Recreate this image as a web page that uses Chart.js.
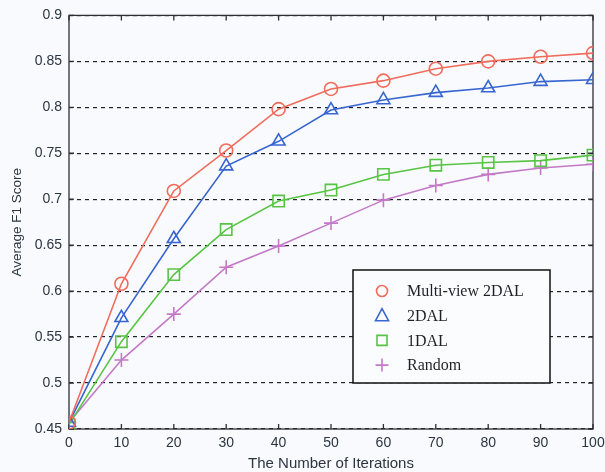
<!DOCTYPE html>
<html>
<head>
<meta charset="utf-8">
<script src="https://cdn.jsdelivr.net/npm/chart.js@4/dist/chart.umd.min.js"></script>
<style>
  html, body { margin: 0; padding: 0; background: #f9fafd; }
  #wrap { width: 605px; height: 472px; }
</style>
</head>
<body>
<div id="wrap"><canvas id="chart" width="605" height="472"></canvas></div>
<script>
// values
const iterations = [0, 10, 20, 30, 40, 50, 60, 70, 80, 90, 100];
const multiView2dal = [0.457, 0.608, 0.709, 0.753, 0.798, 0.820, 0.829, 0.842, 0.850, 0.855, 0.859];
const dal2 = [0.457, 0.571, 0.657, 0.736, 0.763, 0.797, 0.808, 0.816, 0.821, 0.828, 0.830];
const dal1 = [0.455, 0.545, 0.618, 0.667, 0.698, 0.710, 0.727, 0.737, 0.740, 0.742, 0.748];
const random = [0.457, 0.525, 0.575, 0.626, 0.649, 0.674, 0.699, 0.715, 0.727, 0.734, 0.738];
const seriesNames = ["Multi-view 2DAL", "2DAL", "1DAL", "Random"];

const colRed = "#f06c5c";
const colBlue = "#3866d0";
const colGreen = "#58c444";
const colPurple = "#c27ac6";
const textCol = "#2b3540";

function makeSet(label, values, color, style, radius) {
    return {
        label: label,
        data: iterations.map((x, i) => ({ x: x, y: values[i] })),
        borderColor: color,
        backgroundColor: "rgba(0,0,0,0)",
        borderWidth: 1.6,
        pointStyle: style,
        pointRadius: radius,
        pointBorderWidth: 1.6,
        pointBorderColor: color,
        pointBackgroundColor: "rgba(0,0,0,0)",
        tension: 0
    };
}

// box round the plot plus small inward ticks
const framePlugin = {
    id: "frame",
    beforeDatasetsDraw(chart) {
        const { ctx, chartArea: a, scales } = chart;
        ctx.save();
        ctx.strokeStyle = "#2a2f35";
        ctx.lineWidth = 1.3;
        ctx.strokeRect(a.left, a.top, a.right - a.left, a.bottom - a.top);
        ctx.beginPath();
        iterations.forEach(v => {
            const x = scales.x.getPixelForValue(v);
            ctx.moveTo(x, a.bottom); ctx.lineTo(x, a.bottom - 5);
            ctx.moveTo(x, a.top); ctx.lineTo(x, a.top + 5);
        });
        scales.y.ticks.forEach(t => {
            const y = scales.y.getPixelForValue(t.value);
            ctx.moveTo(a.left, y); ctx.lineTo(a.left + 5, y);
            ctx.moveTo(a.right, y); ctx.lineTo(a.right - 5, y);
        });
        ctx.stroke();
        ctx.restore();
    }
};

// legend box inside the plot, lower right
const legendPlugin = {
    id: "boxLegend",
    afterDraw(chart) {
        const { ctx } = chart;
        const x0 = 353, y0 = 270, w = 197, h = 113;
        ctx.save();
        ctx.fillStyle = "#fbfcfe";
        ctx.fillRect(x0, y0, w, h);
        ctx.strokeStyle = "#111";
        ctx.lineWidth = 1.5;
        ctx.strokeRect(x0, y0, w, h);
        ctx.font = "16px 'Liberation Serif', 'DejaVu Serif', serif";
        ctx.textBaseline = "middle";
        chart.data.datasets.forEach((ds, i) => {
            const mx = 382, my = 291 + i * 24.7;
            ctx.strokeStyle = ds.borderColor;
            ctx.lineWidth = 1.6;
            ctx.beginPath();
            if (ds.pointStyle === "circle") {
                ctx.arc(mx, my, 5.5, 0, Math.PI * 2);
            } else if (ds.pointStyle === "triangle") {
                ctx.moveTo(mx, my - 7); ctx.lineTo(mx + 6.5, my + 5); ctx.lineTo(mx - 6.5, my + 5); ctx.closePath();
            } else if (ds.pointStyle === "rect") {
                ctx.rect(mx - 5, my - 5, 10, 10);
            } else {
                ctx.moveTo(mx - 6.5, my); ctx.lineTo(mx + 6.5, my);
                ctx.moveTo(mx, my - 6.5); ctx.lineTo(mx, my + 6.5);
            }
            ctx.stroke();
            ctx.fillStyle = "#1e2226";
            ctx.fillText(ds.label, 407, my + 1);
        });
        ctx.restore();
    }
};

const tickFont = { family: "'Liberation Sans', Arial, sans-serif", size: 14 };

new Chart(document.getElementById("chart"), {
    type: "line",
    data: {
        datasets: [
            makeSet(seriesNames[0], multiView2dal, colRed, "circle", 6.5),
            makeSet(seriesNames[1], dal2, colBlue, "triangle", 7.5),
            makeSet(seriesNames[2], dal1, colGreen, "rect", 8),
            makeSet(seriesNames[3], random, colPurple, "cross", 7)
        ]
    },
    options: {
        responsive: false,
        animation: false,
        layout: { padding: { top: 15, right: 12, bottom: 0, left: 0 } },
        plugins: { legend: { display: false }, tooltip: { enabled: false } },
        scales: {
            x: {
                type: "linear",
                min: 0,
                max: 100,
                afterFit: s => { s.height = 43; },
                grid: { display: false },
                border: { display: false },
                ticks: { stepSize: 10, color: textCol, font: tickFont, padding: -2, maxRotation: 0 },
                title: {
                    display: true,
                    text: "The Number of Iterations",
                    color: textCol,
                    font: { family: "'Liberation Sans', Arial, sans-serif", size: 15 },
                    padding: { top: 0, bottom: -1 }
                }
            },
            y: {
                min: 0.45,
                max: 0.9,
                afterFit: s => { s.width = 69; },
                grid: { color: "#1f2428", lineWidth: 1.2, drawTicks: false },
                border: { display: false, dash: [4, 4] },
                ticks: {
                    stepSize: 0.05,
                    color: textCol,
                    font: tickFont,
                    padding: 7,
                    callback: v => String(+v.toFixed(2))
                },
                title: {
                    display: true,
                    text: "Average F1 Score",
                    color: textCol,
                    font: { family: "'Liberation Sans', Arial, sans-serif", size: 13.5 },
                    padding: { top: 9, bottom: 0 }
                }
            }
        }
    },
    plugins: [framePlugin, legendPlugin]
});
</script>
</body>
</html>
